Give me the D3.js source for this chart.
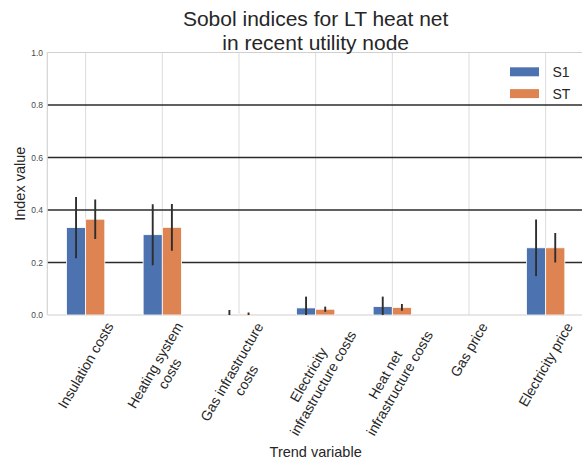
<!DOCTYPE html>
<html>
<head>
<meta charset="utf-8">
<script src="https://cdn.jsdelivr.net/npm/d3@7"></script>
<style>
  body { margin: 0; background: #fff; }
  svg { display: block; font-family: "Liberation Sans", Arial, sans-serif; }
</style>
</head>
<body>
<svg id="chart"></svg>
<script>
// trend variables (x categories), line breaks as in the original labels
let categories = [
    "Insulation costs",
    "Heating system\ncosts",
    "Gas infrastructure\ncosts",
    "Electricity\ninfrastructure costs",
    "Heat net\ninfrastructure costs",
    "Gas price",
    "Electricity price"
];
let seriesNames = ["S1", "ST"];
let s1 = [0.333, 0.306, -0.001, 0.027, 0.032, 0.0, 0.256];
let s1Conf = [0.117, 0.116, 0.02, 0.043, 0.038, 0.0, 0.108];
let st = [0.365, 0.334, 0.004, 0.022, 0.029, 0.0, 0.256];
let stConf = [0.075, 0.089, 0.006, 0.01, 0.013, 0.0, 0.056];
let yTicks = [0.0, 0.2, 0.4, 0.6, 0.8, 1.0];

let w = 582;
let h = 464;
let plotLeft = 47.3, plotRight = 584, plotTop = 52.5, plotBottom = 315;
let colors = ["#4c72b0", "#dd8452"];
let barWidth = 0.25;

let svg = d3.select("#chart").attr("width", w).attr("height", h);

let xScale = d3.scaleLinear().domain([-0.5, categories.length - 0.5]).range([plotLeft, plotRight]);
let yScale = d3.scaleLinear().domain([0, 1]).range([plotBottom, plotTop]);

svg.append("clipPath").attr("id", "plotClip")
    .append("rect")
        .attr("x", plotLeft).attr("y", plotTop)
        .attr("width", plotRight - plotLeft).attr("height", plotBottom - plotTop);

// vertical grid at each category
svg.append("g")
    .selectAll("line")
    .data(categories)
    .enter()
    .append("line")
        .attr("x1", (d, i) => xScale(i)).attr("x2", (d, i) => xScale(i))
        .attr("y1", plotTop).attr("y2", plotBottom)
        .style("stroke", "#dcdcdc")
        .style("stroke-width", 1);

// horizontal grid (dark) for inner ticks
svg.append("g")
    .selectAll("line")
    .data(yTicks.filter(t => t > 0 && t < 1))
    .enter()
    .append("line")
        .attr("x1", plotLeft).attr("x2", plotRight)
        .attr("y1", d => yScale(d)).attr("y2", d => yScale(d))
        .style("stroke", "#2b2b2b")
        .style("stroke-width", 1.3);

// spines
let spines = svg.append("g").style("stroke", "#d0d0d0").style("stroke-width", 1.1);
spines.append("line").attr("x1", plotLeft).attr("x2", plotRight).attr("y1", yScale(1)).attr("y2", yScale(1));
spines.append("line").attr("x1", plotLeft).attr("x2", plotRight).attr("y1", yScale(0)).attr("y2", yScale(0));
spines.append("line").attr("x1", plotLeft).attr("x2", plotLeft).attr("y1", plotTop).attr("y2", plotBottom);

// bars
let series = [s1, st];
let confs = [s1Conf, stConf];
let barData = [];
series.forEach((vals, k) => {
    vals.forEach((v, i) => {
        barData.push({ k: k, i: i, value: v, conf: confs[k][i], center: i + (k - 0.5) * barWidth });
    });
});

let plot = svg.append("g").attr("clip-path", "url(#plotClip)");

plot.append("g")
    .selectAll("rect")
    .data(barData.filter(d => d.value > 0))
    .enter()
    .append("rect")
        .attr("x", d => xScale(d.center - barWidth / 2))
        .attr("width", d => xScale(barWidth) - xScale(0))
        .attr("y", d => yScale(d.value))
        .attr("height", d => yScale(0) - yScale(d.value))
        .style("fill", d => colors[d.k])
        .style("stroke", "#fff")
        .style("stroke-width", 0.8);

// error bars
plot.append("g")
    .selectAll("line")
    .data(barData.filter(d => d.conf > 0))
    .enter()
    .append("line")
        .attr("x1", d => xScale(d.center)).attr("x2", d => xScale(d.center))
        .attr("y1", d => yScale(d.value - d.conf))
        .attr("y2", d => yScale(d.value + d.conf))
        .style("stroke", "#2e2e2e")
        .style("stroke-width", 1.9);

// y axis
let yAxis = d3.axisLeft(yScale).tickValues(yTicks).tickFormat(d3.format(".1f")).tickSize(0).tickPadding(4.3);
let yAxisGroup = svg.append("g").attr("transform", `translate(${plotLeft},0)`).call(yAxis);
yAxisGroup.select(".domain").remove();
yAxisGroup.selectAll("text")
    .attr("font-family", "Liberation Sans, Arial, sans-serif")
    .attr("font-size", "8.5px")
    .attr("fill", "#4a4a4a");

// x tick labels, rotated 60 degrees, bbox centred under the tick
let labelTop = 319.5;
let lineHeight = 16.8;
categories.forEach((c, i) => {
    let outer = svg.append("g");
    let inner = outer.append("g").attr("transform", "rotate(-60)");
    let lines = c.split("\n");
    let txt = inner.append("text")
        .attr("text-anchor", "middle")
        .attr("font-size", "14px")
        .attr("fill", "#262626");
    lines.forEach((l, j) => {
        txt.append("tspan").attr("x", 0).attr("y", j * lineHeight).text(l);
    });
    let bb = outer.node().getBBox();
    outer.attr("transform", `translate(${xScale(i) - (bb.x + bb.width / 2)}, ${labelTop - bb.y})`);
});

// axis titles
svg.append("text")
    .attr("x", (plotLeft + plotRight) / 2)
    .attr("y", 457)
    .attr("text-anchor", "middle")
    .attr("font-size", "14.5px")
    .attr("fill", "#262626")
    .text("Trend variable");

svg.append("text")
    .attr("transform", `translate(24.5, ${(plotTop + plotBottom) / 2}) rotate(-90)`)
    .attr("text-anchor", "middle")
    .attr("font-size", "14.5px")
    .attr("fill", "#262626")
    .text("Index value");

// chart title
let title = svg.append("text")
    .attr("text-anchor", "middle")
    .attr("font-size", "21px")
    .attr("fill", "#262626");
["Sobol indices for LT heat net", "in recent utility node"].forEach((t, j) => {
    title.append("tspan").attr("x", (plotLeft + plotRight) / 2).attr("y", 26 + j * 24).text(t);
});

// legend
let legend = svg.append("g")
    .selectAll("g")
    .data(seriesNames)
    .enter()
    .append("g")
        .attr("transform", (d, i) => `translate(510, ${67.3 + i * 21.8})`);
legend.append("rect")
    .attr("width", 29).attr("height", 9)
    .style("fill", (d, i) => colors[i]);
legend.append("text")
    .attr("x", 42.5).attr("y", 9.5)
    .attr("font-size", "14px")
    .attr("fill", "#262626")
    .text(d => d);
</script>
</body>
</html>
